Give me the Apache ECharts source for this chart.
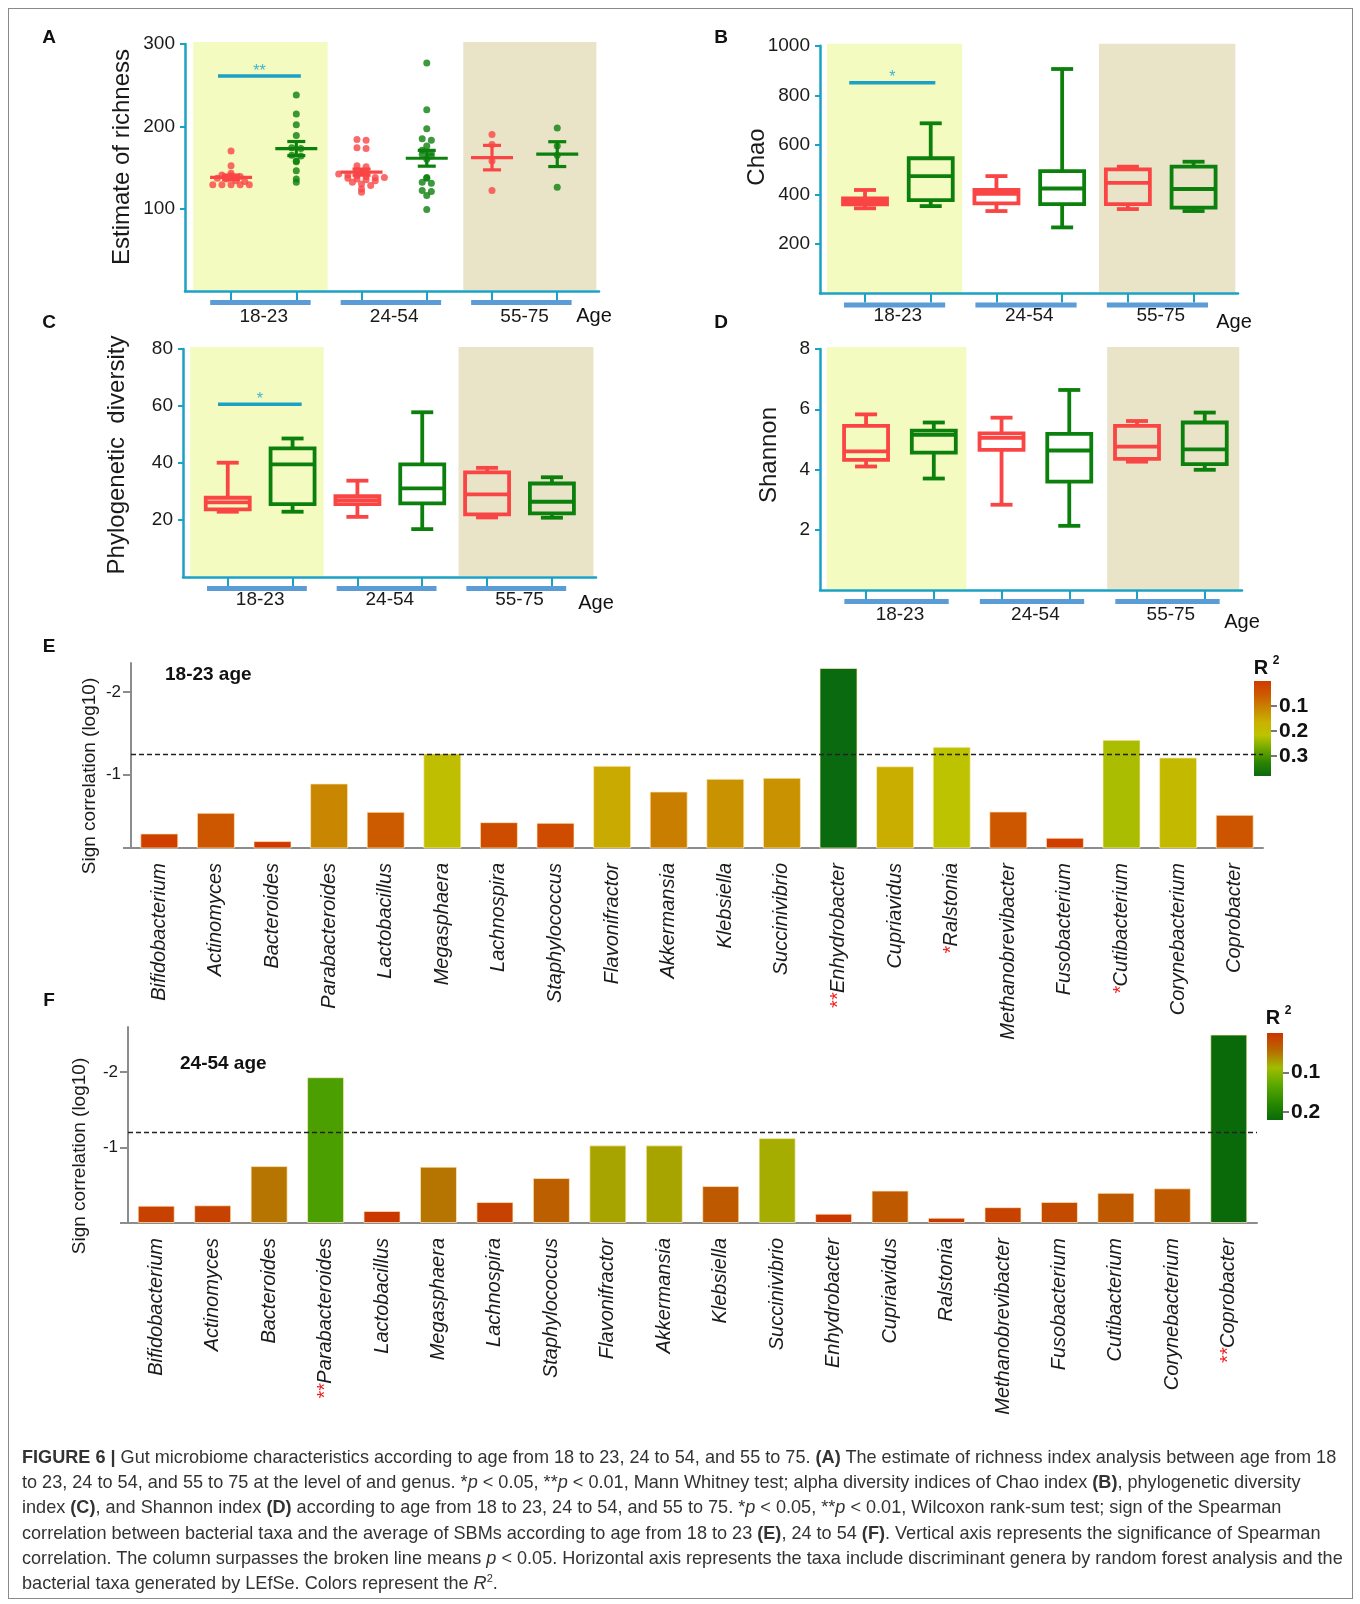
<!DOCTYPE html>
<html>
<head>
<meta charset="utf-8">
<script src="https://cdn.jsdelivr.net/npm/echarts@6/dist/echarts.min.js"></script>
<style>
  html, body { margin: 0; padding: 0; background: #fff; }
  #frame { position: absolute; left: 8px; top: 8px; width: 1343px; height: 1589px; border: 1px solid #8a8a8a; }
  #chart { position: absolute; left: 0; top: 0; width: 1360px; height: 1604px; }
  #caption { position: absolute; left: 22px; top: 1445px; font-family: "Liberation Sans", Arial, sans-serif;
    font-size: 18.1px; line-height: 25.2px; color: #333; white-space: nowrap; }
  #caption sup { font-size: 11px; line-height: 0; }
</style>
</head>
<body>
<div id="frame"></div>
<div id="chart"></div>
<div id="caption">
<b>FIGURE 6 |</b> Gut microbiome characteristics according to age from 18 to 23, 24 to 54, and 55 to 75. <b>(A)</b> The estimate of richness index analysis between age from 18<br>
to 23, 24 to 54, and 55 to 75 at the level of and genus. *<i>p</i> &lt; 0.05, **<i>p</i> &lt; 0.01, Mann Whitney test; alpha diversity indices of Chao index <b>(B)</b>, phylogenetic diversity<br>
index <b>(C)</b>, and Shannon index <b>(D)</b> according to age from 18 to 23, 24 to 54, and 55 to 75. *<i>p</i> &lt; 0.05, **<i>p</i> &lt; 0.01, Wilcoxon rank-sum test; sign of the Spearman<br>
correlation between bacterial taxa and the average of SBMs according to age from 18 to 23 <b>(E)</b>, 24 to 54 <b>(F)</b>. Vertical axis represents the significance of Spearman<br>
correlation. The column surpasses the broken line means <i>p</i> &lt; 0.05. Horizontal axis represents the taxa include discriminant genera by random forest analysis and the<br>
bacterial taxa generated by LEfSe. Colors represent the <i>R</i><sup>2</sup>.
</div>
<script>
// age groups, each has a red and a green box (x positions 0..5)
const groups = ["18-23", "24-54", "55-75"];

// A: estimate of richness, points per box
const richness = [
  [170, 152, 143, 141, 140, 139, 137, 136, 134, 133, 129, 129, 129, 129, 129],
  [238, 215, 202, 189, 174, 173, 165, 164, 158, 157, 146, 136, 132],
  [184, 183, 174, 173, 152, 151, 146, 144, 142, 141, 140, 139, 138, 138, 137, 136, 135, 134, 132, 130, 128, 124, 120],
  [277, 220, 197, 185, 183, 176, 171, 168, 166, 164, 160, 138, 137, 132, 131, 122, 121, 116, 99],
  [190, 178, 158, 122],
  [198, 176, 165, 126],
];

// B-D: box stats [min, q1, median, q3, max]
const chao = [
  [344, 360, 371, 384, 418],
  [353, 377, 474, 546, 687],
  [333, 364, 402, 418, 474],
  [267, 361, 424, 494, 906],
  [341, 361, 447, 501, 512],
  [333, 347, 422, 512, 532],
];
const phylo = [
  [22.9, 23.7, 26.2, 27.8, 40.1],
  [22.9, 25.6, 39.5, 45.1, 48.6],
  [21.1, 25.6, 27.0, 28.4, 33.8],
  [16.8, 25.8, 31.1, 39.5, 57.8],
  [20.9, 22.0, 29.0, 36.7, 38.3],
  [20.8, 22.3, 26.4, 32.8, 35.0],
];
const shannon = [
  [4.10, 4.32, 4.60, 5.45, 5.83],
  [3.70, 4.56, 5.15, 5.29, 5.56],
  [2.83, 4.65, 5.05, 5.20, 5.72],
  [2.13, 3.60, 4.63, 5.18, 6.64],
  [4.26, 4.35, 4.76, 5.45, 5.61],
  [3.99, 4.18, 4.67, 5.56, 5.89],
];

// significance brackets [x from, x to, y, label]
const sigA = [[-0.2, 1.07, 261, "**"]];
const sigB = [[-0.24, 1.07, 851, "*"]];
const sigC = [[-0.15, 1.14, 60.6, "*"]];

// E/F: taxa, -log10 p and R2
const taxa = ["Bifidobacterium", "Actinomyces", "Bacteroides", "Parabacteroides", "Lactobacillus",
  "Megasphaera", "Lachnospira", "Staphylococcus", "Flavonifractor", "Akkermansia", "Klebsiella",
  "Succinivibrio", "Enhydrobacter", "Cupriavidus", "Ralstonia", "Methanobrevibacter",
  "Fusobacterium", "Cutibacterium", "Corynebacterium", "Coprobacter"];
const signE = [0.286, 0.536, 0.194, 0.891, 0.548, 1.254, 0.423, 0.415, 1.105, 0.794,
  0.948, 0.96, 2.29, 1.10, 1.335, 0.552, 0.234, 1.42, 1.206, 0.512];
const r2E = [0.01, 0.05, 0.0, 0.11, 0.055, 0.2, 0.03, 0.028, 0.155, 0.1,
  0.125, 0.125, 0.38, 0.16, 0.215, 0.05, 0.005, 0.23, 0.19, 0.045];
const starsE = { Enhydrobacter: "**", Ralstonia: "*", Cutibacterium: "*" };
const signF = [0.23, 0.235, 0.755, 1.934, 0.16, 0.747, 0.278, 0.596, 1.03, 1.03,
  0.49, 1.126, 0.124, 0.43, 0.07, 0.21, 0.28, 0.40, 0.46, 2.50];
const r2F = [0.012, 0.012, 0.05, 0.145, 0.004, 0.05, 0.012, 0.035, 0.075, 0.075,
  0.03, 0.08, 0.004, 0.03, 0.003, 0.012, 0.018, 0.03, 0.03, 0.22];
const starsF = { Parabacteroides: "**", Coprobacter: "**" };
const thresholdE = 1.25;
const thresholdF = 1.2;

// R2 colour scales
const colorsE = ["#d03a00", "#cc5a00", "#c98500", "#c9b000", "#bcc400", "#6fa800", "#2c8500", "#0a6a10"];
const colorsF = ["#cc3300", "#b86a00", "#a0bc00", "#5aa800", "#2a8a00", "#0a6a0a"];
const ticksE = [0.1, 0.2, 0.3];
const ticksF = [0.1, 0.2];

const RED = "#fa4545", GREEN = "#0c800c", TEAL = "#1ba1c4", BLUE = "#5b9bd6";
const YELLOW = "#f3fbc1", BEIGE = "#e9e3c8", GRAY = "#8c8c8c";
const FONT = "Liberation Sans, Arial, sans-serif";

const myChart = echarts.init(document.getElementById("chart"));

// layout of the four small panels
const panels = [
  { left: 185, top: 44, width: 414, height: 247, xMin: -0.706, xMax: 5.64, yMax: 300, ticks: [100, 200, 300], margin: 16 },
  { left: 820, top: 45.7, width: 418, height: 247.9, xMin: -0.685, xMax: 5.676, yMax: 1000, ticks: [200, 400, 600, 800, 1000], margin: 13 },
  { left: 183, top: 349, width: 413, height: 228, xMin: -0.69, xMax: 5.68, yMax: 80, ticks: [20, 40, 60, 80], margin: 13 },
  { left: 820, top: 349, width: 422, height: 241, xMin: -0.68, xMax: 5.55, yMax: 8, ticks: [2, 4, 6, 8], margin: 15 },
];

// simple bee swarm: spread points that share a value bin
const swarm = (values, center) => {
  const bins = {};
  values.forEach((v) => { const k = Math.round(v / 5); bins[k] = (bins[k] || 0) + 1; });
  const used = {};
  return values.map((v) => {
    const k = Math.round(v / 5);
    const i = used[k] || 0;
    used[k] = i + 1;
    return [center + (i - (bins[k] - 1) / 2) * 0.14, v, center % 2];
  });
};

const mean = (a) => a.reduce((s, v) => s + v, 0) / a.length;
const sem = (a) => {
  const m = mean(a);
  const sd = Math.sqrt(a.reduce((s, v) => s + (v - m) * (v - m), 0) / (a.length - 1));
  return sd / Math.sqrt(a.length);
};

const renderBand = (yMax) => (params, api) => {
  const a = api.coord([api.value(0), yMax]);
  const b = api.coord([api.value(1), 0]);
  return { type: "rect", shape: { x: a[0], y: a[1] - 2, width: b[0] - a[0], height: b[1] - a[1] + 1 },
    style: { fill: params.dataIndex === 0 ? YELLOW : BEIGE } };
};

const renderGroupBar = (params, api) => {
  const g = api.value(0);
  const a = api.coord([g * 2 - 0.32, 0]);
  const b = api.coord([g * 2 + 1.22, 0]);
  return { type: "rect", shape: { x: a[0], y: a[1] + 9, width: b[0] - a[0], height: 5 }, style: { fill: BLUE } };
};

const renderBox = (params, api) => {
  const x = api.value(0);
  const lo = api.coord([x, api.value(1)]);
  const q1 = api.coord([x, api.value(2)]);
  const md = api.coord([x, api.value(3)]);
  const q3 = api.coord([x, api.value(4)]);
  const hi = api.coord([x, api.value(5)]);
  const cx = lo[0], bw = 22, cw = 11;
  const st = { stroke: x % 2 ? GREEN : RED, lineWidth: 3.8, fill: "none" };
  const line = (x1, y1, x2, y2) => ({ type: "line", shape: { x1, y1, x2, y2 }, style: st });
  return { type: "group", children: [
    line(cx, hi[1], cx, q3[1]),
    line(cx, q1[1], cx, lo[1]),
    line(cx - cw, hi[1], cx + cw, hi[1]),
    line(cx - cw, lo[1], cx + cw, lo[1]),
    { type: "rect", shape: { x: cx - bw, y: q3[1], width: bw * 2, height: q1[1] - q3[1] }, style: st },
    line(cx - bw, md[1], cx + bw, md[1]),
  ] };
};

const renderMean = (params, api) => {
  const x = api.value(0), m = api.value(1), s = api.value(2);
  const c = api.coord([x, m]), hi = api.coord([x, m + s]), lo = api.coord([x, m - s]);
  const st = { stroke: x % 2 ? GREEN : RED, lineWidth: 3.2 };
  const line = (x1, y1, x2, y2) => ({ type: "line", shape: { x1, y1, x2, y2 }, style: st });
  return { type: "group", children: [
    line(c[0] - 21, c[1], c[0] + 21, c[1]),
    line(c[0], hi[1], c[0], lo[1]),
    line(c[0] - 9, hi[1], c[0] + 9, hi[1]),
    line(c[0] - 9, lo[1], c[0] + 9, lo[1]),
  ] };
};

const renderSig = (sig) => (params, api) => {
  const s = sig[params.dataIndex];
  const a = api.coord([s[0], s[2]]);
  const b = api.coord([s[1], s[2]]);
  return { type: "group", children: [
    { type: "line", shape: { x1: a[0], y1: a[1], x2: b[0], y2: a[1] }, style: { stroke: TEAL, lineWidth: 3.5 } },
    { type: "text", x: (a[0] + b[0]) / 2, y: a[1] - 5,
      style: { text: s[3], fill: "#3cb4d2", font: "16px " + FONT, align: "center", verticalAlign: "middle" } },
  ] };
};

const renderColorbar = (colors) => (params) => {
  const cs = params.coordSys;
  const stops = colors.map((c, i) => ({ offset: i / (colors.length - 1), color: c }));
  return { type: "rect", shape: { x: cs.x, y: cs.y, width: cs.width, height: cs.height },
    style: { fill: new echarts.graphic.LinearGradient(0, 0, 0, 1, stops) } };
};

const grids = [];
const xAxes = [];
const yAxes = [];
const series = [];

panels.forEach((p, i) => {
  grids.push({ left: p.left, top: p.top, width: p.width, height: p.height, containLabel: false, outerBoundsMode: "none" });
  xAxes.push({
    gridIndex: i, type: "value", min: p.xMin, max: p.xMax,
    axisLine: { show: true, onZero: false, lineStyle: { color: TEAL, width: 2.5 } },
    axisTick: { show: true, customValues: [0, 1, 2, 3, 4, 5], length: 9, lineStyle: { color: TEAL, width: 2 } },
    axisLabel: { customValues: [0.5, 2.5, 4.5], formatter: (v) => groups[Math.round((v - 0.5) / 2)],
      fontSize: 19, color: "#1a1a1a", margin: p.margin, fontFamily: FONT },
    splitLine: { show: false },
  });
  yAxes.push({
    gridIndex: i, type: "value", min: 0, max: p.yMax,
    axisLine: { show: true, onZero: false, lineStyle: { color: TEAL, width: 2.5 } },
    axisTick: { show: true, customValues: p.ticks, length: 5, lineStyle: { color: TEAL, width: 2 } },
    axisLabel: { customValues: p.ticks, formatter: (v) => String(v), fontSize: 19, color: "#1a1a1a", margin: 10, fontFamily: FONT },
    splitLine: { show: false },
  });
  series.push({ type: "custom", xAxisIndex: i, yAxisIndex: i, z: 0, silent: true,
    data: [[-0.58, 1.48], [3.56, p.xMax - 0.04]], renderItem: renderBand(p.yMax) });
  series.push({ type: "custom", xAxisIndex: i, yAxisIndex: i, z: 1, silent: true,
    data: [[0], [1], [2]], renderItem: renderGroupBar });
});

// A: points with mean and SEM
series.push({
  type: "scatter", xAxisIndex: 0, yAxisIndex: 0, z: 3, symbolSize: 7,
  data: richness.flatMap((vals, g) => swarm(vals, g)),
  itemStyle: { color: (params) => (params.data[2] ? GREEN : RED) },
});
series.push({ type: "custom", xAxisIndex: 0, yAxisIndex: 0, z: 4,
  data: richness.map((vals, g) => [g, mean(vals), sem(vals)]), renderItem: renderMean });
series.push({ type: "custom", xAxisIndex: 0, yAxisIndex: 0, z: 4, data: sigA.map((s) => [s[0]]), renderItem: renderSig(sigA) });

// B-D: boxes
[chao, phylo, shannon].forEach((stats, k) => {
  series.push({ type: "custom", xAxisIndex: k + 1, yAxisIndex: k + 1, z: 3,
    data: stats.map((s, i) => [i].concat(s)), renderItem: renderBox });
});
series.push({ type: "custom", xAxisIndex: 1, yAxisIndex: 1, z: 4, data: sigB.map((s) => [s[0]]), renderItem: renderSig(sigB) });
series.push({ type: "custom", xAxisIndex: 2, yAxisIndex: 2, z: 4, data: sigC.map((s) => [s[0]]), renderItem: renderSig(sigC) });

// E and F bar charts
const barPanels = [
  { grid: { left: 131, top: 663, width: 1132, height: 185 }, yMin: 0.11, yMax: 2.35, sign: signE, r2: r2E,
    stars: starsE, threshold: thresholdE, barWidth: 38 },
  { grid: { left: 128, top: 1027, width: 1129, height: 196 }, yMin: 0, yMax: 2.6, sign: signF, r2: r2F,
    stars: starsF, threshold: thresholdF, barWidth: 37 },
];
const barSeriesIndex = [];
barPanels.forEach((b, k) => {
  const gi = 4 + k;
  grids.push(Object.assign({ containLabel: false, outerBoundsMode: "none" }, b.grid));
  xAxes.push({
    gridIndex: gi, type: "category", data: taxa,
    axisLine: { show: true, lineStyle: { color: GRAY, width: 2 } },
    axisTick: { show: false },
    axisLabel: {
      interval: 0, rotate: 90, margin: 15,
      formatter: (v) => (b.stars[v] ? "{star|" + b.stars[v] + "}" : "") + "{it|" + v + "}",
      rich: {
        it: { fontStyle: "italic", fontSize: 20, color: "#1a1a1a", fontFamily: FONT },
        star: { fontStyle: "italic", fontSize: 20, color: "#f02020", fontFamily: FONT },
      },
    },
  });
  yAxes.push({
    gridIndex: gi, type: "value", min: b.yMin, max: b.yMax,
    axisLine: { show: true, lineStyle: { color: GRAY, width: 2 } },
    axisTick: { show: true, customValues: [b.yMin, 1, 2], length: 8, lineStyle: { color: GRAY, width: 2 } },
    axisLabel: { customValues: [1, 2], formatter: (v) => "-" + v, fontSize: 17, color: "#1a1a1a", margin: 10, fontFamily: FONT },
    splitLine: { show: false },
  });
  barSeriesIndex.push(series.length);
  series.push({
    type: "bar", xAxisIndex: gi, yAxisIndex: gi, barWidth: b.barWidth, z: 2,
    data: taxa.map((t, i) => [i, b.sign[i], b.r2[i]]),
    encode: { x: 0, y: 1 },
    itemStyle: { borderColor: "rgba(255,235,190,0.7)", borderWidth: 1 },
    markLine: {
      silent: true, symbol: "none", label: { show: false },
      lineStyle: { type: [5, 3], color: "#222", width: 1.3 },
      data: [{ yAxis: b.threshold }],
    },
  });
});

// colour bars for R2
const cbars = [
  { grid: { left: 1254, top: 681, width: 17, height: 95 }, max: 0.38, colors: colorsE, ticks: ticksE },
  { grid: { left: 1267, top: 1033, width: 16, height: 87 }, max: 0.22, colors: colorsF, ticks: ticksF },
];
cbars.forEach((c, k) => {
  const gi = 6 + k;
  grids.push(Object.assign({ containLabel: false, outerBoundsMode: "none" }, c.grid));
  xAxes.push({ gridIndex: gi, type: "category", data: [""], show: false });
  yAxes.push({
    gridIndex: gi, type: "value", min: 0, max: c.max, inverse: true, position: "right",
    axisLine: { show: false },
    axisTick: { show: true, customValues: c.ticks, length: 6, lineStyle: { color: "#777", width: 2 } },
    axisLabel: { customValues: c.ticks, formatter: (v) => v.toFixed(1), fontSize: 21, fontWeight: "bold",
      color: "#111", margin: 8, fontFamily: FONT },
    splitLine: { show: false },
  });
  series.push({ type: "custom", xAxisIndex: gi, yAxisIndex: gi, silent: true, data: [[0, 0]], renderItem: renderColorbar(c.colors) });
});

const txt = (text, x, y, opts) => Object.assign({
  type: "text", x, y, silent: true,
  style: Object.assign({ text, font: "19px " + FONT, fill: "#111", align: "center", verticalAlign: "middle" }, opts || {}),
});
const vtxt = (text, x, y, size) => ({
  type: "text", x, y, rotation: Math.PI / 2, silent: true,
  style: { text, font: size + "px " + FONT, fill: "#1a1a1a", align: "center", verticalAlign: "middle" },
});

const graphics = [
  txt("A", 49, 38, { font: "bold 19px " + FONT }),
  txt("B", 721, 38, { font: "bold 19px " + FONT }),
  txt("C", 49, 323, { font: "bold 19px " + FONT }),
  txt("D", 721, 323, { font: "bold 19px " + FONT }),
  txt("E", 49, 647, { font: "bold 19px " + FONT }),
  txt("F", 49, 1001, { font: "bold 19px " + FONT }),
  vtxt("Estimate of richness", 122, 157, 24),
  vtxt("Chao", 757, 157, 24),
  vtxt("Phylogenetic  diversity", 117, 455, 24),
  vtxt("Shannon", 769, 455, 24),
  vtxt("Sign correlation (log10)", 90, 776, 19),
  vtxt("Sign correlation (log10)", 80, 1156, 19),
  txt("Age", 594, 316, { font: "20px " + FONT }),
  txt("Age", 1234, 322, { font: "20px " + FONT }),
  txt("Age", 596, 603, { font: "20px " + FONT }),
  txt("Age", 1242, 622, { font: "20px " + FONT }),
  txt("18-23 age", 165, 675, { font: "bold 19px " + FONT, align: "left" }),
  txt("24-54 age", 180, 1064, { font: "bold 19px " + FONT, align: "left" }),
  txt("R", 1261, 668, { font: "bold 20px " + FONT }),
  txt("2", 1276, 661, { font: "bold 12px " + FONT }),
  txt("R", 1273, 1018, { font: "bold 20px " + FONT }),
  txt("2", 1288, 1011, { font: "bold 12px " + FONT }),
];

const options = {
  animation: false,
  textStyle: { fontFamily: FONT },
  grid: grids,
  xAxis: xAxes,
  yAxis: yAxes,
  visualMap: [
    { type: "continuous", show: false, seriesIndex: barSeriesIndex[0], dimension: 2, min: 0, max: 0.38, inRange: { color: colorsE } },
    { type: "continuous", show: false, seriesIndex: barSeriesIndex[1], dimension: 2, min: 0, max: 0.22, inRange: { color: colorsF } },
  ],
  graphic: graphics,
  series: series,
};

myChart.setOption(options);
</script>
</body>
</html>
